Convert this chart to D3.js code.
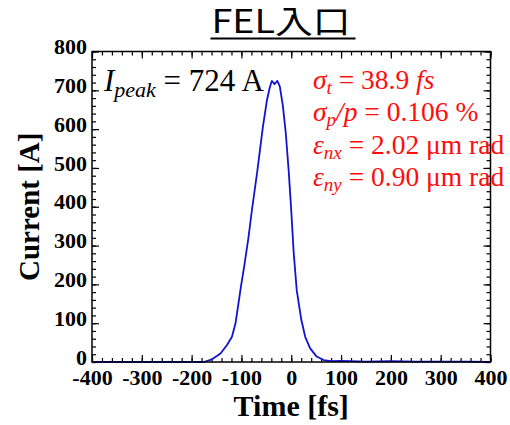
<!DOCTYPE html>
<html>
<head>
<meta charset="utf-8">
<script src="https://cdn.jsdelivr.net/npm/d3@7"></script>
<style>
  body { margin: 0; background: #fff; }
  svg { display: block; }
</style>
</head>
<body>
<svg id="chart" width="510" height="425"></svg>
<script>
// Bunch current profile at the FEL entrance
const timeFs = [-400, -300, -200, -176, -159, -142, -129, -119, -112, -107, -101, -94, -86, -79, -68, -57, -49, -43, -39, -36, -33.5, -31, -28, -23, -17, -11, -5, 0, 5, 11, 20, 28, 38, 51, 65, 80, 100, 120, 150, 200, 250, 300, 350, 400];
const currentA = [0, 0, 0, 0, 7, 22, 44, 65, 99, 142, 194, 250, 320, 391, 493, 605, 673, 708, 724, 720, 716, 720, 724, 710, 662, 590, 490, 390, 280, 185, 110, 65, 35, 14, 5, 2, 3, 2, 1, 2, 1, 1, 1, 0];

const xTickValues = [-400, -300, -200, -100, 0, 100, 200, 300, 400];
const yTickValues = [0, 100, 200, 300, 400, 500, 600, 700, 800];

const chartTitle = "FEL入口";
const xLabel = "Time [fs]";
const yLabel = "Current [A]";

const peakCurrent = 724;
const sigmaT = "38.9";
const sigmaPoverP = "0.106";
const emitNX = "2.02";
const emitNY = "0.90";

const svg = d3.select("#chart");
const box = { left: 92, right: 490.5, top: 51.5, bottom: 362 };

const x = d3.scaleLinear().domain([-400, 400]).range([box.left, box.right]);
const y = d3.scaleLinear().domain([0, 800]).range([box.bottom, box.top]);

const serif = "'Liberation Serif', 'Times New Roman', serif";
const plainNumber = d => String(d);

// Minor ticks (every 20) on all four sides, pointing inward
const xMinor = d3.range(-400, 401, 20);
const yMinor = d3.range(0, 801, 20);

function styleAxis(g) {
  g.select(".domain").remove();
  g.selectAll(".tick line").attr("stroke", "#000").attr("stroke-width", 1.2);
}

svg.append("g").attr("transform", `translate(0,${box.bottom})`)
  .call(d3.axisBottom(x).tickValues(xMinor).tickSize(-4).tickFormat(""))
  .call(styleAxis);
svg.append("g").attr("transform", `translate(0,${box.top})`)
  .call(d3.axisTop(x).tickValues(xMinor).tickSize(-4).tickFormat(""))
  .call(styleAxis);
svg.append("g").attr("transform", `translate(${box.left},0)`)
  .call(d3.axisLeft(y).tickValues(yMinor).tickSize(-4).tickFormat(""))
  .call(styleAxis);
svg.append("g").attr("transform", `translate(${box.right},0)`)
  .call(d3.axisRight(y).tickValues(yMinor).tickSize(-4).tickFormat(""))
  .call(styleAxis);

// Major ticks with labels
const xAxis = svg.append("g").attr("transform", `translate(0,${box.bottom})`)
  .call(d3.axisBottom(x).tickValues(xTickValues).tickSize(-7).tickPadding(7).tickFormat(plainNumber))
  .call(styleAxis);
svg.append("g").attr("transform", `translate(0,${box.top})`)
  .call(d3.axisTop(x).tickValues(xTickValues).tickSize(-7).tickFormat(""))
  .call(styleAxis);
const yAxis = svg.append("g").attr("transform", `translate(${box.left},0)`)
  .call(d3.axisLeft(y).tickValues(yTickValues).tickSize(-7).tickPadding(5).tickFormat(plainNumber))
  .call(styleAxis);
svg.append("g").attr("transform", `translate(${box.right},0)`)
  .call(d3.axisRight(y).tickValues(yTickValues).tickSize(-7).tickFormat(""))
  .call(styleAxis);

[xAxis, yAxis].forEach(g => g.selectAll(".tick text")
  .attr("font-family", serif)
  .attr("font-weight", "bold")
  .attr("font-size", 22)
  .attr("fill", "#000"));
yAxis.selectAll(".tick text").attr("dy", "0.1em");

// Current profile
const line = d3.line().x((d, i) => x(timeFs[i])).y(d => y(d));
svg.append("path")
  .datum(currentA)
  .attr("d", line)
  .attr("fill", "none")
  .attr("stroke", "#1212d6")
  .attr("stroke-width", 1.8)
  .attr("stroke-linejoin", "round");

// Frame
svg.append("rect")
  .attr("x", box.left).attr("y", box.top)
  .attr("width", box.right - box.left).attr("height", box.bottom - box.top)
  .attr("fill", "none").attr("stroke", "#000").attr("stroke-width", 1.5);

// Axis titles
svg.append("text")
  .attr("x", (box.left + box.right) / 2).attr("y", 416)
  .attr("text-anchor", "middle")
  .attr("font-family", serif).attr("font-weight", "bold").attr("font-size", 30)
  .text(xLabel);
svg.append("text")
  .attr("transform", `translate(39,${(box.top + box.bottom) / 2}) rotate(-90)`)
  .attr("text-anchor", "middle")
  .attr("font-family", serif).attr("font-weight", "bold").attr("font-size", 29)
  .text(yLabel);

// Title (horizontally widened) with underline
const titleX = 281, titleStretch = 1.18;
const title = svg.append("text")
  .attr("transform", `translate(${titleX},33) scale(${titleStretch},1)`)
  .attr("text-anchor", "middle")
  .attr("font-family", "'Noto Sans CJK JP', 'Noto Sans', sans-serif")
  .attr("font-size", 32)
  .text(chartTitle);
const titleW = title.node().getComputedTextLength() * titleStretch;
svg.append("line")
  .attr("x1", titleX - titleW / 2 - 1).attr("x2", titleX + titleW / 2 + 5)
  .attr("y1", 38.5).attr("y2", 38.5)
  .attr("stroke", "#000").attr("stroke-width", 2);

// Peak current annotation
const peak = svg.append("text")
  .attr("x", 104).attr("y", 91)
  .attr("font-family", serif).attr("font-size", 31).attr("fill", "#000");
peak.append("tspan").attr("font-style", "italic").text("I");
peak.append("tspan").attr("font-style", "italic").attr("font-size", 22).attr("dy", 6).text("peak");
peak.append("tspan").attr("dy", -6).text(` = ${peakCurrent} A`);

// Beam parameters
const params = svg.append("g")
  .attr("font-family", serif).attr("font-size", 27.5).attr("fill", "#ff0d0d");

function paramLine(yPos, sym, sub, rest) {
  const t = params.append("text").attr("x", 313).attr("y", yPos);
  t.append("tspan").attr("font-style", "italic").text(sym);
  t.append("tspan").attr("font-style", "italic").attr("font-size", 19).attr("dy", 5).text(sub);
  const r = t.append("tspan").attr("dy", -5);
  rest(t, r);
}
paramLine(88.5, "σ", "t", (t, r) => {
  r.text(" = " + sigmaT + " ");
  t.append("tspan").attr("font-style", "italic").text("fs");
});
paramLine(121, "σ", "p", (t, r) => {
  r.attr("font-style", "italic").text("/p");
  t.append("tspan").text(" = " + sigmaPoverP + " %");
});
paramLine(153.5, "ε", "nx", (t, r) => {
  r.text(" = " + emitNX + " μm rad");
});
paramLine(186, "ε", "ny", (t, r) => {
  r.text(" = " + emitNY + " μm rad");
});
</script>
</body>
</html>
